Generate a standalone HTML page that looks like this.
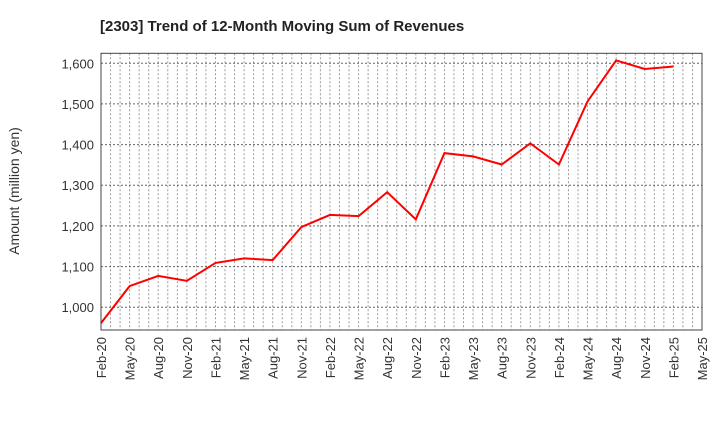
<!DOCTYPE html>
<html><head><meta charset="utf-8"><style>
html,body{margin:0;padding:0;background:#fff;}
text{font-family:"Liberation Sans",sans-serif;}
</style></head><body>
<svg id="chart" width="720" height="440" xmlns="http://www.w3.org/2000/svg">
<text x="100" y="31" font-size="15" font-weight="bold" fill="#222">[2303]  Trend of 12-Month Moving Sum of Revenues</text>
<text transform="translate(19,191) rotate(-90)" text-anchor="middle" font-size="14" fill="#333">Amount (million yen)</text>
<g id="grid"></g><g id="ticks"></g><g id="series"></g>
<rect x="101" y="53.3" width="601" height="276.7" fill="none" stroke="#444" stroke-width="1"/>
</svg>
<script>
const categories=["Feb-20","May-20","Aug-20","Nov-20","Feb-21","May-21","Aug-21","Nov-21","Feb-22","May-22","Aug-22","Nov-22","Feb-23","May-23","Aug-23","Nov-23","Feb-24","May-24","Aug-24","Nov-24","Feb-25","May-25"];
const revenues=[961,1052,1077,1065,1109,1120,1116,1197,1227,1224,1283,1216,1379,1371,1351,1403,1351,1506,1607,1586,1592];
const yTicks=[1000,1100,1200,1300,1400,1500,1600];
const yTickLabels=["1,000","1,100","1,200","1,300","1,400","1,500","1,600"];
const L=101,R=702,T=53.3,B=330,yMin=944,yMax=1624.5;
const NS="http://www.w3.org/2000/svg";
const nMonths=(categories.length-1)*3;
function x(i){return L+(R-L)*i/(categories.length-1);}
function xm(m){return L+(R-L)*m/nMonths;}
function y(v){return B-(v-yMin)/(yMax-yMin)*(B-T);}
const grid=document.getElementById('grid'),ticks=document.getElementById('ticks'),series=document.getElementById('series');
for(let m=1;m<nMonths;m++){
 const l=document.createElementNS(NS,'line');
 l.setAttribute('x1',xm(m));l.setAttribute('x2',xm(m));l.setAttribute('y1',T);l.setAttribute('y2',B);
 l.setAttribute('stroke','#999');l.setAttribute('stroke-dasharray','2,2');l.setAttribute('stroke-width','1');
 
 
 grid.appendChild(l);
}
yTicks.forEach((v,i)=>{
 const l=document.createElementNS(NS,'line');
 l.setAttribute('x1',L);l.setAttribute('x2',R);l.setAttribute('y1',y(v));l.setAttribute('y2',y(v));
 l.setAttribute('stroke','#666');l.setAttribute('stroke-dasharray','2,2');l.setAttribute('stroke-width','1');
 
 
 grid.appendChild(l);
 const t=document.createElementNS(NS,'text');
 t.setAttribute('x',L-7);t.setAttribute('y',y(v)+5);t.setAttribute('text-anchor','end');
 t.setAttribute('font-size','13');t.setAttribute('fill','#333');t.textContent=yTickLabels[i];
 
 
 ticks.appendChild(t);
});
categories.forEach((c,i)=>{
 const t=document.createElementNS(NS,'text');
 t.setAttribute('transform','translate('+(x(i)+5)+',337) rotate(-90)');
 t.setAttribute('text-anchor','end');t.setAttribute('font-size','13');t.setAttribute('fill','#333');
 t.textContent=c;
 
 
 ticks.appendChild(t);
});
const p=document.createElementNS(NS,'polyline');
p.setAttribute('points',revenues.map((v,i)=>x(i)+','+y(v)).join(' '));
p.setAttribute('fill','none');p.setAttribute('stroke','#f00');p.setAttribute('stroke-width','2');


series.appendChild(p);
</script>
</body></html>
